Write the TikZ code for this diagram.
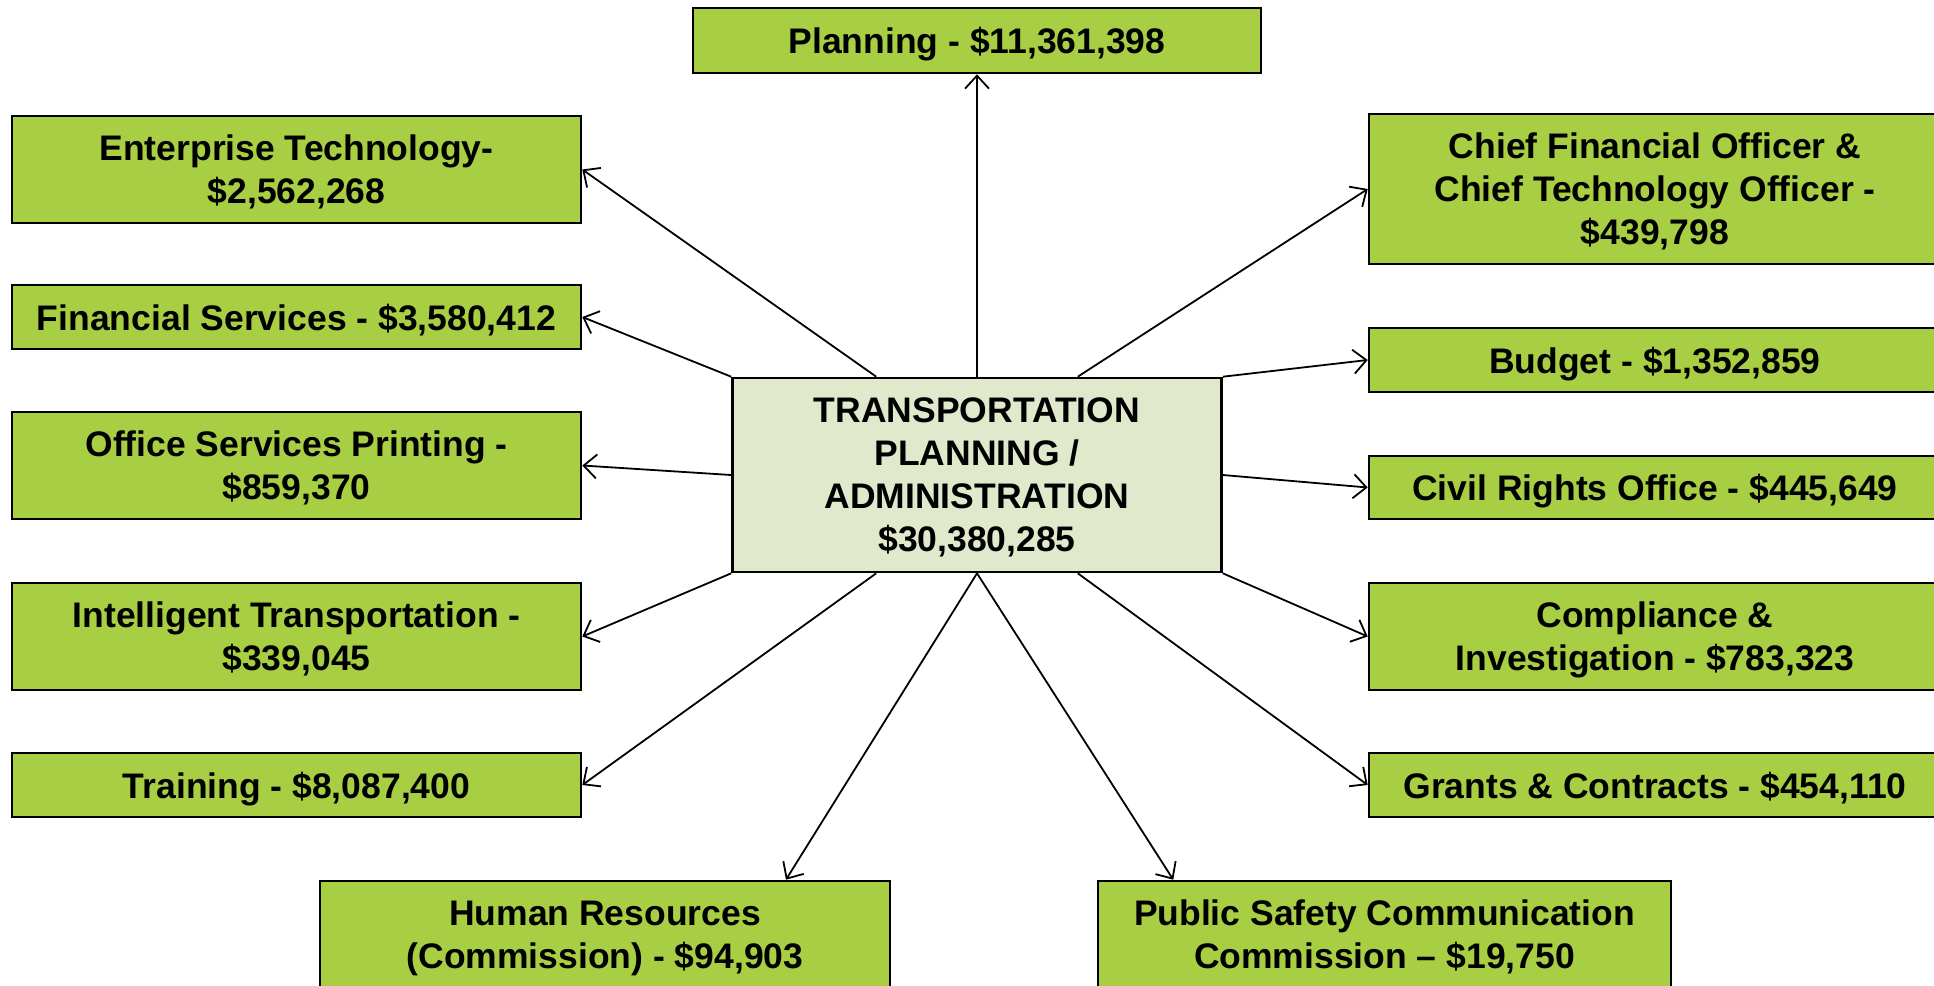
\documentclass[tikz,border=0pt]{standalone}
\usepackage{fontspec}
\setmainfont{Liberation Sans}
\usetikzlibrary{arrows.meta,calc}
\definecolor{boxgreen}{RGB}{168,206,68}
\definecolor{admingreen}{RGB}{224,233,203}
\begin{document}
\begin{tikzpicture}[x=1pt,y=-1pt,
  box/.style={draw=black, line width=2.6pt, fill=boxgreen, inner sep=0pt, align=center,
    text depth=0pt, font=\fontsize{35.5}{43}\selectfont\bfseries},
  link/.style={line width=1.8pt, -{Straight Barb[length=13pt,width=24pt]}}]
\clip (0,0) rectangle (1934,985);
\fill[white] (0,0) rectangle (1934,985);
% centre
\node[box, fill=admingreen, minimum width=489pt, minimum height=194pt] (admin) at (977,475){TRANSPORTATION\\PLANNING /\\ADMINISTRATION\\\$30,380,285};
% top
\node[box, minimum width=568pt, minimum height=65pt] (plan) at (977,40.5){Planning - \$11,361,398};
% left column
\node[box, minimum width=569pt, minimum height=107pt] (ent) at (296.5,169.5){Enterprise Technology-\\\$2,562,268};
\node[box, minimum width=569pt, minimum height=64pt] (fin) at (296.5,317){Financial Services - \$3,580,412};
\node[box, minimum width=569pt, minimum height=107pt] (off) at (296.5,465.5){Office Services Printing -\\\$859,370};
\node[box, minimum width=569pt, minimum height=107pt] (its) at (296.5,636.5){Intelligent Transportation -\\\$339,045};
\node[box, minimum width=569pt, minimum height=64pt] (trn) at (296.5,785){Training - \$8,087,400};
% right column
\node[box, minimum width=572pt, minimum height=150pt] (cfo) at (1655,189){Chief Financial Officer \&\\Chief Technology Officer -\\\$439,798};
\node[box, minimum width=572pt, minimum height=64pt] (bud) at (1655,360){Budget - \$1,352,859};
\node[box, minimum width=572pt, minimum height=63pt] (civ) at (1655,487.5){Civil Rights Office - \$445,649};
\node[box, minimum width=572pt, minimum height=107pt] (com) at (1655,636.5){Compliance \&\\Investigation - \$783,323};
\node[box, minimum width=572pt, minimum height=64pt] (grt) at (1655,785){Grants \& Contracts - \$454,110};
% bottom
\node[box, minimum width=570pt, minimum height=107pt] (hr) at (605,934.5){Human Resources\\(Commission) - \$94,903};
\node[box, minimum width=573pt, minimum height=107pt] (psc) at (1384.5,934.5){Public Safety Communication\\Commission – \$19,750};
% connector ends
\coordinate (atl) at ($(admin.north west)!0.295!(admin.north east)$);
\coordinate (atr) at ($(admin.north west)!0.705!(admin.north east)$);
\coordinate (abl) at ($(admin.south west)!0.295!(admin.south east)$);
\coordinate (abr) at ($(admin.south west)!0.705!(admin.south east)$);
\coordinate (hrin) at ($(hr.north west)!0.816!(hr.north east)$);
\coordinate (pscin) at ($(psc.north west)!0.133!(psc.north east)$);
\draw[link](admin.north) -- (plan.south);
\draw[link](atl) -- (ent.east);
\draw[link](admin.north west) -- (fin.east);
\draw[link](admin.west) -- (off.east);
\draw[link](admin.south west) -- (its.east);
\draw[link](abl) -- (trn.east);
\draw[link](admin.south) -- (hrin);
\draw[link](admin.south) -- (pscin);
\draw[link](abr) -- (grt.west);
\draw[link](admin.south east) -- (com.west);
\draw[link](admin.east) -- (civ.west);
\draw[link](admin.north east) -- (bud.west);
\draw[link](atr) -- (cfo.west);
\end{tikzpicture}
\end{document}
